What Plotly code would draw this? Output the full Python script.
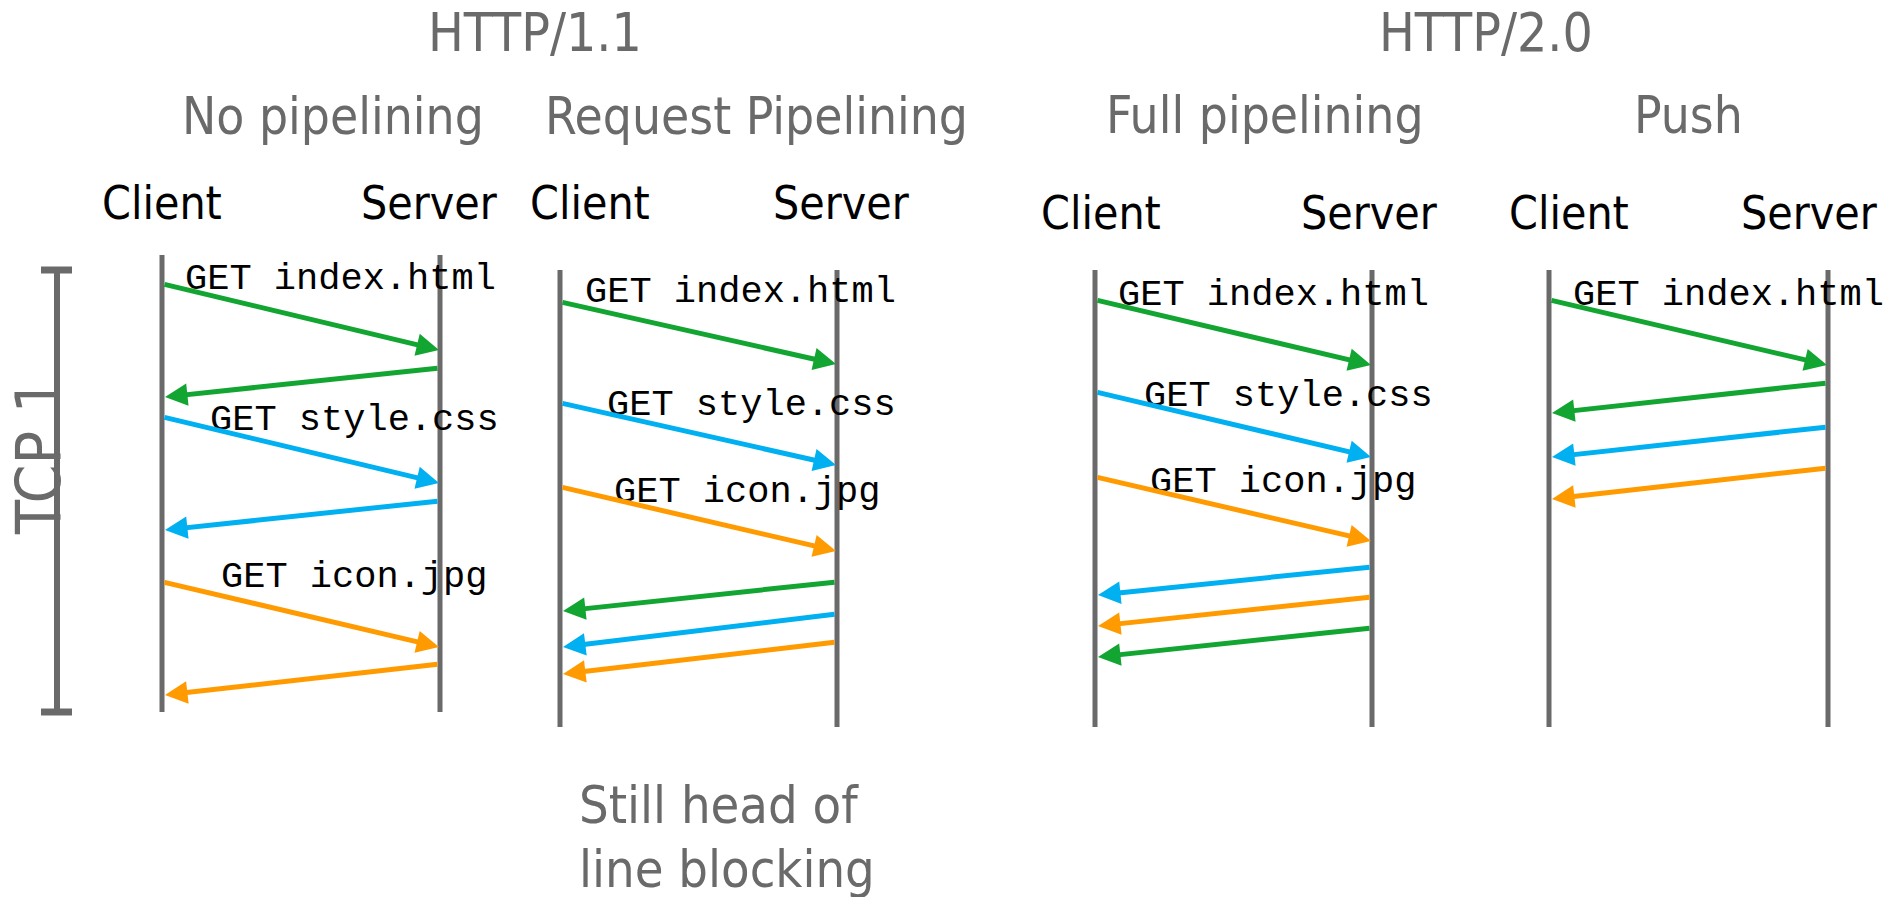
import plotly.graph_objects as go

W, H = 1888, 897

# ---- data ----
group_titles = ["HTTP/1.1", "HTTP/2.0"]
group_title_x = [535, 1486]

panel_titles = ["No pipelining", "Request Pipelining", "Full pipelining", "Push"]
panel_title_x = [333, 756, 1265, 1688]
panel_title_y = [116, 116, 115, 115]

client_x = [162, 560, 1095, 1549]
server_x = [440, 837, 1372, 1828]
line_top = [255, 270, 270, 270]
line_bottom = [712, 727, 727, 727]

client_label_x = [162, 590, 1101, 1569]
server_label_x = [429, 841, 1369, 1809]
label_y = [203, 203, 213, 213]

# messages: panel index, direction, resource, start time (y), end time (y)
msg_panel = [0, 0, 0, 0, 0, 0,
             1, 1, 1, 1, 1, 1,
             2, 2, 2, 2, 2, 2,
             3, 3, 3, 3]
msg_dir = ["req", "resp", "req", "resp", "req", "resp",
           "req", "req", "req", "resp", "resp", "resp",
           "req", "req", "req", "resp", "resp", "resp",
           "req", "resp", "resp", "resp"]
msg_res = ["index", "index", "style", "style", "icon", "icon",
           "index", "style", "icon", "index", "style", "icon",
           "index", "style", "icon", "style", "icon", "index",
           "index", "index", "style", "icon"]
msg_t0 = [284, 368, 417, 501, 582, 664,
          302, 403, 487, 582, 614, 642,
          300, 392, 477, 567, 597, 628,
          300, 383, 427, 468]
msg_t1 = [350, 397, 483, 530, 647, 695,
          364, 465, 551, 611, 647, 674,
          365, 457, 541, 595, 626, 657,
          365, 413, 457, 499]

res_colors = {"index": "#13a532", "style": "#00b0f0", "icon": "#ff9b00"}

get_labels = ["GET index.html", "GET style.css", "GET icon.jpg",
              "GET index.html", "GET style.css", "GET icon.jpg",
              "GET index.html", "GET style.css", "GET icon.jpg",
              "GET index.html"]
get_x = [183, 208, 219, 583, 605, 612, 1116, 1142, 1148, 1571]
get_y = [279, 420, 577, 292, 405, 492, 295, 396, 482, 295]

note_lines = ["Still head of", "line blocking"]
note_x = 577
note_y = [805, 869]

tcp_label = "TCP 1"
tcp_x = 57
tcp_top, tcp_bottom = 270, 712

# ---- style ----
SANS = "DejaVu Sans Condensed, DejaVu Sans, sans-serif"
MONO = "Liberation Mono, Courier New, monospace"
GRAY = "#6a6a6a"

fig = go.Figure()
fig.add_trace(go.Scatter(x=[0, W], y=[0, H], mode="markers",
                         marker=dict(opacity=0), hoverinfo="skip", showlegend=False))

shapes = []
for i in range(4):
    for lx in (client_x[i], server_x[i]):
        shapes.append(dict(type="line", xref="x", yref="y", x0=lx, x1=lx,
                           y0=line_top[i], y1=line_bottom[i],
                           line=dict(color=GRAY, width=5)))
# TCP bracket
shapes.append(dict(type="line", xref="x", yref="y", x0=tcp_x, x1=tcp_x,
                   y0=tcp_top, y1=tcp_bottom, line=dict(color=GRAY, width=6)))
for yy in (tcp_top, tcp_bottom):
    shapes.append(dict(type="line", xref="x", yref="y", x0=tcp_x - 16, x1=tcp_x + 15,
                       y0=yy, y1=yy, line=dict(color=GRAY, width=7)))

ann = []
for t, x in zip(group_titles, group_title_x):
    ann.append(dict(text=t, x=x, y=32, xref="x", yref="y", showarrow=False,
                    xanchor="center", yanchor="middle",
                    font=dict(family=SANS, size=53, color=GRAY)))
for t, x, y in zip(panel_titles, panel_title_x, panel_title_y):
    ann.append(dict(text=t, x=x, y=y, xref="x", yref="y", showarrow=False,
                    xanchor="center", yanchor="middle",
                    font=dict(family=SANS, size=51, color=GRAY)))
for i in range(4):
    for t, x in (("Client", client_label_x[i]), ("Server", server_label_x[i])):
        ann.append(dict(text=t, x=x, y=label_y[i], xref="x", yref="y", showarrow=False,
                        xanchor="center", yanchor="middle",
                        font=dict(family=SANS, size=46, color="black")))
for t, x, y in zip(get_labels, get_x, get_y):
    ann.append(dict(text=t, x=x, y=y, xref="x", yref="y", showarrow=False,
                    xanchor="left", yanchor="middle",
                    font=dict(family=MONO, size=37, color="black")))
for t, y in zip(note_lines, note_y):
    ann.append(dict(text=t, x=note_x, y=y, xref="x", yref="y", showarrow=False,
                    xanchor="left", yanchor="middle",
                    font=dict(family=SANS, size=52, color=GRAY)))
ann.append(dict(text=tcp_label, x=38, y=457, xref="x", yref="y", showarrow=False,
                textangle=-90, xanchor="center", yanchor="middle",
                font=dict(family=SANS, size=62, color=GRAY)))

# arrows
for p, d, r, t0, t1 in zip(msg_panel, msg_dir, msg_res, msg_t0, msg_t1):
    if d == "req":
        sx, ex = client_x[p] + 1, server_x[p] - 1
    else:
        sx, ex = server_x[p] - 1, client_x[p] + 3
    ann.append(dict(text="", x=ex, y=t1, ax=sx, ay=t0, xref="x", yref="y",
                    axref="x", ayref="y", showarrow=True, arrowhead=2,
                    arrowsize=0.9, arrowwidth=5, arrowcolor=res_colors[r],
                    standoff=0, startstandoff=0))

fig.update_layout(
    width=W, height=H, margin=dict(l=0, r=0, t=0, b=0),
    paper_bgcolor="white", plot_bgcolor="white",
    xaxis=dict(range=[0, W], visible=False, fixedrange=True),
    yaxis=dict(range=[H, 0], visible=False, fixedrange=True),
    shapes=shapes, annotations=ann, showlegend=False,
)
fig.write_html("out.html", config={"displayModeBar": False},
               post_script="document.body.style.margin='0';document.body.style.overflow='hidden';")
